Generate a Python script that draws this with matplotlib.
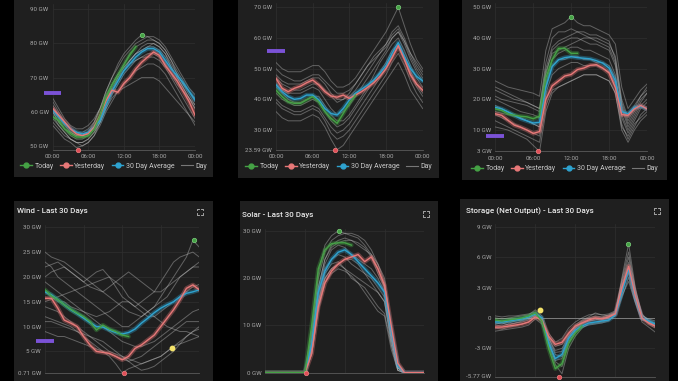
import matplotlib
matplotlib.use("Agg")
import matplotlib.pyplot as plt
from matplotlib.patches import Rectangle
from matplotlib.lines import Line2D

plt.rcParams['font.family'] = ['Roboto', 'DejaVu Sans']

HOURS = list(range(25))
X_TICKS = [0, 6, 12, 18, 24]
X_LABELS = ["00:00", "06:00", "12:00", "18:00", "00:00"]
LEGEND_LABELS = ["Today", "Yesterday", "30 Day Average", "Day"]

# ---------------- Panel 1 (top left) ----------------
p1_today = [58.5, 57.5, 55, 53.6, 52.6, 52.6, 53, 55, 59, 64.3, 67.8, 70.7, 73.7, 76.6, 79]
p1_yesterday = [61, 59, 57, 55, 53.5, 53, 53.6, 55.5, 59, 63.3, 66.3, 65.7, 68.3, 70, 72.5, 74.5, 76,
                77.5, 76.5, 73.5, 71.3, 69, 66, 63, 59]
p1_average = [60.5, 58.5, 56.5, 55, 54, 53.5, 54, 55.5, 57.5, 62, 66, 69, 72, 74, 76, 77.5, 78.5,
              78.5, 77.5, 75, 72.5, 70.5, 68.5, 66, 63.5]
p1_days = [
    [62, 59, 57, 55, 54, 54, 55, 57, 61, 66, 70, 73, 76, 78, 80, 81, 82, 82, 81, 79, 76, 73, 70, 67, 65],
    [60, 57, 55, 53, 52, 52, 53, 55, 59, 64, 68, 71, 74, 77, 79, 80, 81, 81, 80, 78, 75, 72, 69, 66, 63],
    [58, 56, 54, 52, 51, 50, 51, 53, 57, 62, 66, 70, 73, 75, 77, 78, 79, 79, 78, 76, 73, 70, 67, 64, 61],
    [64, 61, 58, 56, 55, 55, 56, 58, 61, 65, 68, 71, 73, 75, 77, 78, 79, 80, 79, 77, 74, 71, 68, 66, 64],
    [56, 54, 52, 51, 49.5, 50, 51, 53, 56, 60, 63, 66, 68, 70, 72, 73, 74, 74, 73, 71, 68, 65, 62, 59, 56],
    [59, 56, 54, 52, 51, 51, 52, 54, 57, 61, 64, 66, 67, 68, 69, 70, 70, 70, 69, 67, 65, 63, 61, 59, 57],
    [61, 58, 56, 54, 53, 53, 54, 57, 61, 66, 70, 74, 77, 79, 81, 82.5, 82, 81, 80, 78, 75, 71, 68, 65, 62],
    [57, 55, 53, 52, 51, 51, 52, 54, 57, 61, 65, 68, 71, 73, 75, 76, 76, 76, 75, 73, 70, 67, 64, 61, 58],
    [63, 60, 57, 55, 54, 53, 54, 56, 59, 63, 67, 70, 72, 74, 75, 76, 77, 77, 76, 74, 71, 68, 66, 64, 62],
    [60, 57, 55, 54, 53, 53, 54, 55, 58, 62, 66, 69, 72, 75, 77, 79, 80, 80, 79, 77, 73, 70, 67, 64, 61],
]
p1_yticks = [50, 60, 70, 80, 90]
p1_max = (15, 82.5)
p1_min = (4.2, 48.8)
p1_mark = 65.5

# ---------------- Panel 2 (top middle) ----------------
p2_today = [43, 40.9, 39.2, 38.7, 38.7, 39.8, 40.9, 39.2, 36, 33.8, 32.2, 35.4, 38.7, 41.4]
p2_yesterday = [46.8, 43.6, 42.5, 43.6, 44.3, 45.4, 46.3, 44.7, 42.5, 41.1, 40.7, 41.4, 40.3, 41.4, 42.5,
                43.9, 45.4, 47.5, 50, 53.5, 57.5, 53, 48, 45, 43]
p2_average = [44.7, 42.5, 40.9, 40, 40.3, 41.4, 41.4, 39.8, 37, 35.4, 34.9, 37, 39.8, 42, 43.3, 44.7,
              46.3, 48.5, 51, 55, 58.5, 54, 50, 47.5, 46]
p2_days = [
    [52, 50, 49, 49, 49, 50, 51, 51, 49, 46, 44, 44, 45, 47, 50, 53, 56, 59, 62, 66, 70, 64, 58, 53, 50],
    [48, 46, 45, 45, 45, 46, 47, 47, 45, 42, 40, 40, 41, 43, 46, 49, 52, 55, 58, 62, 64, 60, 55, 51, 48],
    [45, 43, 42, 42, 42, 43, 44, 43, 40, 37, 35, 36, 38, 41, 44, 47, 50, 53, 56, 60, 62, 58, 53, 49, 46],
    [42, 40, 39, 38, 38, 39, 40, 39, 36, 33, 31, 32, 34, 37, 40, 43, 46, 49, 52, 56, 58, 54, 49, 45, 42],
    [39, 37, 36, 35, 35, 36, 37, 36, 33, 29, 27, 28, 30, 33, 36, 39, 42, 45, 48, 52, 55, 51, 46, 42, 39],
    [36, 34, 33, 33, 33, 34, 35, 34, 31, 27, 23.6, 25, 28, 31, 34, 37, 40, 43, 46, 49, 52, 48, 43, 40, 37],
    [50, 48, 47, 46, 46, 47, 48, 48, 46, 44, 42, 42, 43, 45, 48, 51, 53, 55, 57, 60, 62, 59, 55, 52, 49],
    [44, 42, 40, 39, 39, 40, 41, 41, 38, 35, 33, 33, 35, 38, 41, 44, 48, 52, 55, 58, 60, 56, 51, 47, 44],
    [47, 45, 44, 43, 43, 44, 45, 45, 43, 41, 39, 40, 42, 45, 48, 51, 54, 56, 58, 61, 63, 59, 54, 50, 47],
    [40, 38, 37, 36, 36, 37, 38, 37, 34, 31, 29, 30, 32, 35, 38, 41, 44, 47, 50, 54, 57, 53, 48, 44, 41],
]
p2_yticks = [23.59, 30, 40, 50, 60, 70]
p2_max = (20, 70)
p2_min = (9.7, 23.59)
p2_mark = 55.8

# ---------------- Panel 3 (top right) ----------------
p3_today = [16.9, 16.4, 15.3, 14.8, 14.5, 14.3, 13.7, 14.5, 27, 32.9, 36.6, 36.6, 35, 35]
p3_yesterday = [15.3, 14.8, 13.2, 11.6, 10.9, 10, 8.9, 9.5, 20, 24.4, 26, 27.6, 28.1, 29.7, 30.2, 31.1,
                31.3, 30.2, 28.6, 23.8, 15, 14.8, 16.9, 18, 16.9]
p3_average = [17.4, 16.9, 15.9, 14.8, 13.7, 13, 12.3, 12.5, 24, 30.7, 32.9, 33.6, 33.9, 33.6, 33.4,
              33.2, 32.6, 31.8, 30.2, 26, 16, 15.3, 17.4, 17.7, 16.9]
p3_days = [
    [26, 25, 24, 23.5, 23, 22.5, 22, 21, 36, 43, 44, 45, 47, 45, 44, 44, 43, 42, 41, 38, 24, 17, 20, 23, 25],
    [23, 22, 21, 20, 19.5, 19, 18, 17, 32, 40, 42, 42, 43, 42, 41, 40, 40, 39, 38, 34, 20, 14, 18, 21, 23],
    [20, 19, 18, 17, 16, 15.5, 15, 14, 28, 36, 38, 39, 40, 40, 39, 38, 38, 37, 36, 31, 17, 11, 15, 19, 22],
    [18, 17, 16, 15, 14, 13, 12, 11, 25, 33, 35, 36, 37, 37, 36, 36, 35, 34, 33, 28, 14, 9, 13, 17, 19],
    [15, 14, 13, 12, 11, 10, 9, 8, 22, 28, 30, 31, 32, 32, 31, 31, 31, 30, 29, 25, 12, 7, 11, 15, 17],
    [13, 12, 11, 10, 9, 8, 7, 6, 18, 23, 24, 25, 26, 27, 28, 28, 28, 27, 26, 22, 10, 6, 10, 13, 15],
    [24, 23, 22, 21, 20, 19, 18, 17, 30, 37, 39, 40, 41, 42, 42, 41, 41, 40, 39, 33, 19, 13, 17, 21, 24],
    [16, 15.5, 15, 14.5, 14, 13, 12, 11, 24, 31, 33, 33, 34, 34, 33, 33, 32, 32, 31, 27, 15, 10, 14, 18, 20],
    [21, 20, 19.5, 19, 18.5, 18, 17, 16, 29, 35, 36, 37, 38, 39, 40, 40, 39, 38, 37, 32, 18, 12, 16, 20, 22],
    [11, 10.5, 10, 9, 8, 7, 5, 3, 16, 22, 24, 25, 26, 27, 28, 28, 28, 27, 26, 22, 11, 8, 12, 14, 16],
]
p3_yticks = [3, 10, 20, 30, 40, 50]
p3_max = (12, 47)
p3_min = (6.8, 3)
p3_mark = 7.9

# ---------------- Wind ----------------
wind_today = [17.4, 16.2, 15.4, 14.4, 13.5, 12.7, 12, 11, 9.3, 10.3, 9.5, 9, 8.3, 8]
wind_yesterday = [15.7, 15.7, 13.7, 11.3, 10.7, 10, 8, 6.3, 5, 4.8, 4.6, 4, 3.3, 4, 5.6, 6.3, 7.3, 8.3,
                  10, 11.7, 13.4, 15.4, 17.7, 18.4, 17.4]
wind_average = [17.0, 16.4, 15.4, 14.4, 13.4, 12.6, 11.7, 10.8, 10, 9.9, 9.3, 8.8, 8.5, 8.8, 9.5, 10.7,
                11.7, 12.8, 13.7, 14.4, 15.0, 16.0, 16.7, 17.0, 17.4]
wind_days = [
    [25, 24, 23.5, 23, 22, 21, 20, 19, 18, 17, 16, 15, 14, 13, 12.5, 12, 13, 14, 16, 18, 20, 22, 24, 27.4, 26],
    [22, 22.5, 23, 22, 21, 20, 19, 18, 17.5, 17, 18, 19, 20, 21, 20, 19, 18, 17, 17, 18, 19, 20, 21, 22, 22],
    [19, 18, 17, 16, 15, 14, 13, 12, 11, 10, 9, 8, 7, 6.5, 6, 6, 6.5, 7, 8, 9, 10, 11, 12, 13, 13.5],
    [14, 13.5, 13, 12, 11, 10, 9, 8, 7, 6, 5, 4.5, 4, 3.5, 3, 2.5, 3, 3.5, 4, 5, 6, 7, 8, 9, 9.5],
    [12, 11.5, 11, 10.5, 10, 9, 8, 7, 6, 5, 4, 2.5, 0.71, 1.5, 2, 2.5, 3, 3.5, 4, 5, 6, 6.5, 7, 7.5, 8],
    [20, 21, 21.5, 22, 21, 20, 19, 20, 21, 21.5, 20, 18, 16, 15, 14, 15, 16, 17, 19, 21, 23, 24, 24.5, 25, 24],
    [17, 16, 15, 15, 14, 13.5, 13, 12.5, 12, 12.5, 13, 14, 15, 15, 14, 13, 12, 12, 13, 14, 15, 16, 17, 18, 18.5],
    [9, 8.5, 8, 8, 7.5, 7, 6.5, 6, 5.5, 5, 4.5, 4, 3.5, 3, 3.5, 4, 5, 6, 7, 8, 9, 10, 11, 11, 11],
    [23, 22, 20, 19, 18, 17, 16, 15, 14, 13, 12, 11, 10, 10, 11, 12, 13, 14, 15, 16, 18, 20, 21, 22, 23],
    [15, 15.5, 16, 16.5, 17, 17.5, 18, 18.5, 19, 19.5, 20, 19, 18, 16, 15, 14, 13, 12, 11, 10, 9.5, 9, 9, 8.5, 8],
    [11, 11, 10.5, 10, 9.5, 9, 8.5, 8, 7.5, 7, 6, 5, 4, 3, 2, 1.2, 1.5, 2, 3, 4, 5, 6.5, 8, 9, 10],
]
wind_yticks = [0.71, 5, 10, 15, 20, 25, 30]
wind_max = (23.2, 27.4)
wind_min = (12.3, 0.71)
wind_mark = 7.0
wind_extra = (19.8, 5.6)

# ---------------- Solar ----------------
solar_today = [0, 0, 0, 0, 0, 0, 0, 10, 22, 26, 27.3, 27.5, 27.5, 27]
solar_yesterday = [0, 0, 0, 0, 0, 0, 0, 4, 14, 19, 21.5, 23, 24, 24.5, 25, 23.5, 24.5, 22, 18.5, 10, 2,
                   0, 0, 0, 0]
solar_average = [0, 0, 0, 0, 0, 0, 0, 6, 17, 21.5, 24, 25.5, 26, 25, 23.5, 22, 20.5, 19, 17, 9, 1.5,
                 0, 0, 0, 0]
solar_days = [
    [0, 0, 0, 0, 0, 0, 0, 8, 20, 25.5, 28, 29, 29.5, 29.5, 29, 28, 26, 23, 19, 9, 1.5, 0, 0, 0, 0],
    [0, 0, 0, 0, 0, 0, 0, 9, 21, 27, 29, 30, 29.5, 29, 28.5, 27, 25, 22, 18, 8, 1, 0, 0, 0, 0],
    [0, 0, 0, 0, 0, 0, 0, 5, 16, 22, 24, 25, 24.5, 23, 22, 21, 20, 18, 16, 7, 1, 0, 0, 0, 0],
    [0, 0, 0, 0, 0, 0, 0, 4, 14, 20, 22, 23, 22, 20, 19, 17, 15, 13, 12, 5, 0.5, 0, 0, 0, 0],
    [0, 0, 0, 0, 0, 0, 0, 6, 17, 23, 26, 27, 26.5, 25, 24, 23, 22, 20, 17, 8, 1, 0, 0, 0, 0],
    [0, 0, 0, 0, 0, 0, 0, 5, 15, 21, 23, 23.5, 22, 21, 20, 19, 18, 17, 15, 6, 0.5, 0, 0, 0, 0],
    [0, 0, 0, 0, 0, 0, 0, 7, 18, 24, 26.5, 27.5, 28, 28, 27.5, 26.5, 24.5, 21, 18, 8.5, 1.5, 0, 0, 0, 0],
    [0, 0, 0, 0, 0, 0, 0, 4, 13, 19, 21, 22, 21.5, 20.5, 19, 18, 16, 14, 12.5, 6, 0.5, 0, 0, 0, 0],
    [0, 0, 0, 0, 0, 0, 0, 6, 18, 24, 27, 28, 28.5, 28, 27, 26, 25, 23, 20, 9, 1.5, 0, 0, 0, 0],
    [0, 0, 0, 0, 0, 0, 0, 5, 15, 20, 22, 23, 24, 24, 23, 21, 19, 17, 15, 7, 1, 0, 0, 0, 0],
]
solar_yticks = [0, 10, 20, 30]
solar_max = (11.1, 30)
solar_min = (6.1, 0)

# ---------------- Storage ----------------
storage_today = [-0.2, -0.3, -0.2, -0.1, 0.0, 0.2, 0.5, -0.3, -3.0, -5.0, -4.5, -2.5, -1.5, -0.8]
storage_yesterday = [-0.9, -0.9, -0.8, -0.7, -0.6, -0.4, 0.1, -0.2, -1.8, -2.6, -2.4, -1.5, -0.8, -0.5,
                     -0.2, 0.0, -0.1, 0.1, 0.4, 3.0, 5.1, 2.2, 0.0, -0.5, -0.8]
storage_average = [-0.4, -0.4, -0.3, -0.2, -0.1, 0.1, 0.4, 0.0, -2.5, -4.0, -3.6, -2.0, -1.2, -0.8, -0.5,
                   -0.4, -0.3, -0.2, 0.3, 2.5, 4.8, 2.0, 0.0, -0.3, -0.6]
storage_days = [
    [-0.5, -0.6, -0.4, -0.3, -0.2, 0.0, 0.5, 0.0, -2.2, -4.3, -4.8, -2.5, -1.3, -0.6, -0.3, -0.2, 0.0, 0.2, 0.5, 4.0, 7.3, 3.0, 0.3, -0.2, -0.5],
    [-1.0, -1.1, -0.9, -0.8, -0.6, -0.4, 0.2, -0.4, -2.0, -3.2, -3.0, -1.8, -0.9, -0.3, 0.0, 0.2, 0.1, 0.3, 0.6, 3.2, 5.5, 2.4, 0.1, -0.6, -1.0],
    [0.0, -0.1, 0.0, 0.1, 0.2, 0.3, 0.8, 0.2, -2.8, -4.6, -5.5, -3.0, -1.8, -1.0, -0.6, -0.5, -0.4, -0.2, 0.2, 2.0, 4.0, 1.6, -0.2, -0.4, -0.7],
    [-0.7, -0.8, -0.6, -0.5, -0.4, -0.2, 0.3, -0.1, -1.5, -2.4, -2.0, -1.0, -0.4, 0.0, 0.3, 0.4, 0.3, 0.4, 0.7, 3.5, 6.0, 2.6, 0.4, -0.3, -0.9],
    [-0.3, -0.4, -0.5, -0.3, -0.2, 0.0, 0.4, -0.1, -2.3, -3.6, -3.8, -2.2, -1.1, -0.5, -0.3, -0.1, -0.2, 0.0, 0.4, 2.8, 4.5, 1.8, -0.1, -0.5, -0.8],
    [-1.3, -1.2, -1.1, -1.0, -0.9, -0.7, -0.1, -0.6, -1.9, -2.8, -2.6, -1.6, -0.7, -0.2, 0.1, 0.5, 0.3, 0.2, 0.5, 2.2, 3.6, 1.5, -0.4, -0.9, -1.4],
    [0.2, 0.1, 0.2, 0.2, 0.3, 0.4, 0.6, 0.0, -2.6, -4.2, -4.0, -2.4, -1.4, -0.9, -0.7, -0.6, -0.5, -0.3, 0.3, 3.8, 6.5, 2.8, 0.2, -0.1, -0.3],
    [-0.6, -0.5, -0.7, -0.5, -0.3, -0.1, 0.3, -0.2, -2.0, -3.4, -3.3, -1.9, -1.0, -0.4, -0.1, 0.1, 0.0, 0.1, 0.4, 3.0, 5.0, 2.0, 0.0, -0.4, -0.6],
]
storage_yticks = [-5.77, -3, 0, 3, 6, 9]
storage_ticklabels = ["-5.77 GW", "-3 GW", "0", "3 GW", "6 GW", "9 GW"]
storage_max = (19.85, 7.3)
storage_min = (9.5, -5.77)
storage_extra = (6.7, 0.8)

# ---------------- styling ----------------
W, H = 678, 381
BG = "black"
PANEL = "#1f1f1f"
GREEN = "#45a245"
RED = "#e87878"
BLUE = "#2ea3d0"
GRAY = "#c8c8c8"
PURPLE = "#7b52d6"
YELLOW = "#f3e26a"
TICK = "#a9a9a9"
GRID = "#2f2f2f"

fig = plt.figure(figsize=(W / 100, H / 100), dpi=100, facecolor=BG)


def box(x0, x1, y0, y1):
    fig.add_artist(Rectangle((x0 / W, 1 - y1 / H), (x1 - x0) / W, (y1 - y0) / H,
                             transform=fig.transFigure, facecolor=PANEL,
                             edgecolor="none", zorder=0))


def icon(cx, cy):
    s, k = 3.0, 1.6
    for sx in (-1, 1):
        for sy in (-1, 1):
            xs = [(cx + sx * s) / W, (cx + sx * s) / W, (cx + sx * (s - k)) / W]
            ys = [1 - (cy + sy * (s - k)) / H, 1 - (cy + sy * s) / H, 1 - (cy + sy * s) / H]
            fig.add_artist(Line2D(xs, ys, transform=fig.transFigure, color="#bbbbbb", lw=0.6))


def make_axes(x0, x1, ytop, ybot):
    ax = fig.add_axes([x0 / W, 1 - ybot / H, (x1 - x0) / W, (ybot - ytop) / H])
    ax.set_facecolor("none")
    for s in ("top", "right", "left"):
        ax.spines[s].set_visible(False)
    ax.spines["bottom"].set_color("#5a5a5a")
    ax.spines["bottom"].set_linewidth(0.6)
    ax.tick_params(length=0, pad=3, labelsize=4.4, labelcolor=TICK)
    ax.grid(True, color=GRID, lw=0.5)
    ax.set_axisbelow(True)
    ax.set_xlim(0, 24)
    ax.set_xticks(X_TICKS)
    return ax


def draw(ax, days, today, yest, avg, ylim, yticks, ylabels, vmax, vmin, mark=None, extra=None,
         show_x=True):
    for d in days:
        ax.plot(HOURS[:len(d)], d, color=GRAY, alpha=0.4, lw=0.7, zorder=2)
    for series, col in ((avg, BLUE), (yest, RED), (today, GREEN)):
        hx = HOURS[:len(series)]
        ax.plot(hx, series, color=col, alpha=0.35, lw=3.2, zorder=3, solid_capstyle="round")
        ax.plot(hx, series, color=col, lw=1.0, zorder=4)
    ax.plot([vmax[0]], [vmax[1]], "o", color=GREEN, ms=3.2, mec="#7fd07f", mew=0.5, zorder=6, clip_on=False)
    ax.plot([vmin[0]], [vmin[1]], "o", color="#e04e58", ms=3.2, mec="#f08080", mew=0.5, zorder=6, clip_on=False)
    if mark is not None:
        ax.plot([-1.4, 1.4], [mark, mark], color=PURPLE, lw=2.8, solid_capstyle="butt",
                zorder=7, clip_on=False)
    if extra is not None:
        ax.plot([extra[0]], [extra[1]], "o", color=YELLOW, ms=3.2, zorder=6)
    ax.set_ylim(*ylim)
    ax.set_yticks(yticks)
    ax.set_yticklabels(ylabels)
    if show_x:
        ax.set_xticklabels(X_LABELS)
    else:
        ax.set_xticklabels([])


def gw(ticks):
    return [f"{t:g} GW" for t in ticks]


def legend(cx, cy):
    handles = [Line2D([], [], color=GREEN, lw=1.0, marker="o", ms=3.5),
               Line2D([], [], color=RED, lw=1.0, marker="o", ms=3.5),
               Line2D([], [], color=BLUE, lw=1.0, marker="o", ms=3.5),
               Line2D([], [], color="#777777", lw=0.8)]
    fig.legend(handles, LEGEND_LABELS, loc="center", bbox_to_anchor=(cx / W, 1 - cy / H), ncol=4,
               frameon=False, fontsize=5, handlelength=1.7, handletextpad=0.35, columnspacing=0.9,
               labelcolor="#c8c8c8", borderpad=0)


# ---- top row ----
box(14, 213, -5, 177)
box(238, 439, -5, 178)
box(462, 667, -5, 180)

ax1 = make_axes(52.7, 195, 4.2, 150)
draw(ax1, p1_days, p1_today, p1_yesterday, p1_average, (48.8, 91.5), p1_yticks, gw(p1_yticks),
     p1_max, p1_min, mark=p1_mark)
legend(113.5, 166)

ax2 = make_axes(276, 422.7, 2.7, 149.7)
draw(ax2, p2_days, p2_today, p2_yesterday, p2_average, (23.59, 71.5), p2_yticks, gw(p2_yticks),
     p2_max, p2_min, mark=p2_mark)
legend(338.5, 167)

ax3 = make_axes(495.3, 647, 2.7, 151.5)
draw(ax3, p3_days, p3_today, p3_yesterday, p3_average, (3, 51.5), p3_yticks, gw(p3_yticks),
     p3_max, p3_min, mark=p3_mark)
legend(564.5, 169)

# ---- bottom row ----
box(14, 213, 201, 390)
box(240, 438, 201, 390)
box(460, 669, 198.5, 390)

ax4 = make_axes(45, 199.3, 224.8, 372.7)
draw(ax4, wind_days, wind_today, wind_yesterday, wind_average, (0.71, 30.5), wind_yticks,
     gw(wind_yticks), wind_max, wind_min, mark=wind_mark, extra=wind_extra, show_x=False)

ax5 = make_axes(265.3, 424.3, 228.6, 372.7)
draw(ax5, solar_days, solar_today, solar_yesterday, solar_average, (0, 30.5), solar_yticks,
     gw(solar_yticks), solar_max, solar_min, show_x=False)

ax6 = make_axes(495.3, 655.3, 223.6, 376.5)
draw(ax6, storage_days, storage_today, storage_yesterday, storage_average, (-5.77, 9.3),
     storage_yticks, storage_ticklabels, storage_max, storage_min, extra=storage_extra, show_x=False)
ax6.axhline(0, color="#8a8a8a", lw=0.6, zorder=1)

for tx, ty, title in ((17, 211, "Wind - Last 30 Days"),
                      (242.5, 215, "Solar - Last 30 Days"),
                      (465.5, 211, "Storage (Net Output) - Last 30 Days")):
    fig.text(tx / W, 1 - ty / H, title, color="#e8e8e8", fontsize=5.8, ha="left", va="center",
             fontweight="medium")

icon(200, 211.5)
icon(426, 214)
icon(657, 211)

fig.savefig("out.png", dpi=100, facecolor=BG)
